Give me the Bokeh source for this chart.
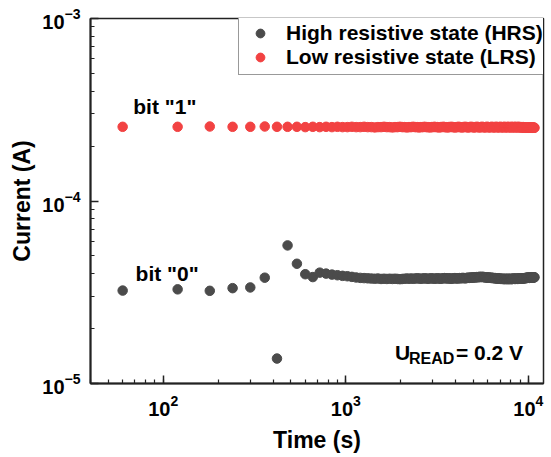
from bokeh.plotting import figure
from bokeh.models import Label
from bokeh.embed import file_html
from bokeh.resources import INLINE

# Measurement times (s), one reading every 60 s for 3 h
time_s = [
    60, 120, 180, 240, 300, 360, 420, 480, 540, 600,
    660, 720, 780, 840, 900, 960, 1020, 1080, 1140, 1200,
    1260, 1320, 1380, 1440, 1500, 1560, 1620, 1680, 1740, 1800,
    1860, 1920, 1980, 2040, 2100, 2160, 2220, 2280, 2340, 2400,
    2460, 2520, 2580, 2640, 2700, 2760, 2820, 2880, 2940, 3000,
    3060, 3120, 3180, 3240, 3300, 3360, 3420, 3480, 3540, 3600,
    3660, 3720, 3780, 3840, 3900, 3960, 4020, 4080, 4140, 4200,
    4260, 4320, 4380, 4440, 4500, 4560, 4620, 4680, 4740, 4800,
    4860, 4920, 4980, 5040, 5100, 5160, 5220, 5280, 5340, 5400,
    5460, 5520, 5580, 5640, 5700, 5760, 5820, 5880, 5940, 6000,
    6060, 6120, 6180, 6240, 6300, 6360, 6420, 6480, 6540, 6600,
    6660, 6720, 6780, 6840, 6900, 6960, 7020, 7080, 7140, 7200,
    7260, 7320, 7380, 7440, 7500, 7560, 7620, 7680, 7740, 7800,
    7860, 7920, 7980, 8040, 8100, 8160, 8220, 8280, 8340, 8400,
    8460, 8520, 8580, 8640, 8700, 8760, 8820, 8880, 8940, 9000,
    9060, 9120, 9180, 9240, 9300, 9360, 9420, 9480, 9540, 9600,
    9660, 9720, 9780, 9840, 9900, 9960, 10020, 10080, 10140, 10200,
    10260, 10320, 10380, 10440, 10500, 10560, 10620, 10680, 10740, 10800,
]

# High resistive state current (units of 1e-5 A)
hrs_e5 = [
    3.23, 3.28, 3.22, 3.33, 3.36, 3.80, 1.37, 5.71, 4.53, 3.97,
    3.83, 4.05, 4.00, 3.95, 3.92, 3.89, 3.87, 3.84, 3.81, 3.79,
    3.78, 3.77, 3.76, 3.75, 3.76, 3.74, 3.75, 3.74, 3.75, 3.74,
    3.75, 3.74, 3.73, 3.74, 3.75, 3.76, 3.75, 3.76, 3.75, 3.76,
    3.77, 3.76, 3.75, 3.76, 3.77, 3.76, 3.75, 3.76, 3.77, 3.76,
    3.75, 3.76, 3.77, 3.76, 3.75, 3.76, 3.77, 3.78, 3.77, 3.76,
    3.77, 3.76, 3.75, 3.76, 3.77, 3.78, 3.77, 3.76, 3.77, 3.78,
    3.77, 3.78, 3.79, 3.78, 3.77, 3.78, 3.79, 3.80, 3.79, 3.80,
    3.81, 3.80, 3.81, 3.82, 3.81, 3.82, 3.83, 3.82, 3.83, 3.84,
    3.83, 3.84, 3.83, 3.84, 3.83, 3.82, 3.81, 3.82, 3.81, 3.80,
    3.81, 3.80, 3.79, 3.80, 3.79, 3.78, 3.79, 3.78, 3.77, 3.78,
    3.77, 3.76, 3.77, 3.76, 3.75, 3.76, 3.75, 3.74, 3.75, 3.74,
    3.75, 3.74, 3.73, 3.74, 3.75, 3.74, 3.73, 3.74, 3.75, 3.74,
    3.73, 3.74, 3.75, 3.74, 3.73, 3.74, 3.75, 3.76, 3.75, 3.74,
    3.75, 3.74, 3.75, 3.76, 3.75, 3.74, 3.75, 3.76, 3.75, 3.76,
    3.77, 3.76, 3.75, 3.76, 3.77, 3.76, 3.77, 3.78, 3.77, 3.78,
    3.79, 3.78, 3.79, 3.80, 3.79, 3.80, 3.81, 3.80, 3.79, 3.80,
    3.81, 3.80, 3.81, 3.82, 3.81, 3.80, 3.81, 3.82, 3.81, 3.82,
]

# Low resistive state current (units of 1e-4 A)
lrs_e4 = [
    2.55, 2.55, 2.56, 2.55, 2.55, 2.56, 2.55, 2.55, 2.55, 2.54,
    2.55, 2.54, 2.55, 2.54, 2.55, 2.54, 2.54, 2.55, 2.54, 2.54,
    2.55, 2.54, 2.54, 2.53, 2.54, 2.54, 2.55, 2.54, 2.54, 2.53,
    2.54, 2.54, 2.55, 2.54, 2.54, 2.53, 2.54, 2.54, 2.55, 2.54,
    2.54, 2.53, 2.54, 2.54, 2.55, 2.54, 2.54, 2.53, 2.54, 2.54,
    2.55, 2.54, 2.54, 2.53, 2.54, 2.54, 2.55, 2.54, 2.54, 2.53,
    2.54, 2.54, 2.55, 2.54, 2.54, 2.53, 2.54, 2.54, 2.55, 2.54,
    2.54, 2.53, 2.54, 2.54, 2.55, 2.54, 2.54, 2.53, 2.54, 2.54,
    2.55, 2.54, 2.54, 2.53, 2.54, 2.54, 2.55, 2.54, 2.54, 2.53,
    2.54, 2.54, 2.55, 2.54, 2.54, 2.53, 2.54, 2.54, 2.55, 2.54,
    2.54, 2.53, 2.54, 2.54, 2.55, 2.54, 2.54, 2.53, 2.54, 2.54,
    2.55, 2.54, 2.54, 2.53, 2.54, 2.54, 2.55, 2.54, 2.54, 2.53,
    2.54, 2.54, 2.55, 2.54, 2.54, 2.53, 2.54, 2.54, 2.55, 2.54,
    2.54, 2.53, 2.54, 2.54, 2.55, 2.54, 2.54, 2.53, 2.54, 2.54,
    2.55, 2.54, 2.54, 2.53, 2.54, 2.54, 2.55, 2.54, 2.54, 2.53,
    2.54, 2.54, 2.53, 2.54, 2.53, 2.53, 2.54, 2.53, 2.53, 2.52,
    2.53, 2.53, 2.52, 2.53, 2.53, 2.52, 2.53, 2.52, 2.53, 2.52,
    2.53, 2.52, 2.52, 2.53, 2.52, 2.52, 2.53, 2.52, 2.52, 2.52,
]

hrs_current = [v * 1e-5 for v in hrs_e5]
lrs_current = [v * 1e-4 for v in lrs_e4]

HRS_LABEL = "High resistive state (HRS)"
LRS_LABEL = "Low resistive state (LRS)"
HRS_COLOR = "#4b4b4b"
LRS_COLOR = "#f24242"
FONT = "Liberation Sans"

p = figure(width=549, height=455, x_axis_type="log", y_axis_type="log",
           x_range=(40, 12100), y_range=(1e-5, 1e-3),
           output_backend="svg", toolbar_location=None,
           min_border_left=90, min_border_right=6,
           min_border_top=18, min_border_bottom=69)

p.grid.visible = False
p.outline_line_color = "#222222"
p.outline_line_width = 1.5
p.outline_line_alpha = 1.0

p.scatter(time_s, hrs_current, size=9.5, color=HRS_COLOR, legend_label=HRS_LABEL)
p.scatter(time_s, lrs_current, size=9.5, color=LRS_COLOR, legend_label=LRS_LABEL)

for ax in (p.xaxis[0], p.yaxis[0]):
    ax.axis_line_width = 2
    ax.axis_line_color = "#222222"
    ax.major_tick_line_width = 1.5
    ax.minor_tick_line_width = 1.2
    ax.major_tick_line_color = "#222222"
    ax.minor_tick_line_color = "#222222"
    ax.major_tick_in = 8
    ax.major_tick_out = 0
    ax.minor_tick_in = 4
    ax.minor_tick_out = 0
    ax.major_label_text_font = FONT
    ax.major_label_text_font_style = "bold"
    ax.major_label_text_font_size = "20px"
    ax.major_label_text_color = "black"
    ax.axis_label_text_font = FONT
    ax.axis_label_text_font_style = "bold"
    ax.axis_label_text_font_size = "23px"
    ax.axis_label_text_color = "black"

p.xaxis.axis_label = "Time (s)"
p.yaxis.axis_label = "Current (A)"
p.xaxis.major_label_standoff = 11
p.yaxis.major_label_standoff = 10
p.xaxis.axis_label_standoff = 8
p.yaxis.axis_label_standoff = 4

leg = p.legend[0]
leg.location = (148, 308)
leg.border_line_color = "#333333"
leg.border_line_width = 1
leg.background_fill_alpha = 1.0
leg.padding = 5
leg.spacing = 0
leg.margin = 0
leg.glyph_width = 32
leg.glyph_height = 22
leg.label_height = 22
leg.label_standoff = 10
leg.label_text_font = FONT
leg.label_text_font_style = "bold"
leg.label_text_font_size = "21px"
leg.label_text_color = "black"

def add_label(x, y, text, size, xo=0, yo=0):
    p.add_layout(Label(x=x, y=y, text=text, x_offset=xo, y_offset=yo,
                       text_font=FONT, text_font_style="bold",
                       text_font_size=size, text_color="black",
                       text_baseline="alphabetic", text_align="left"))

add_label(68.6, 3.28e-4, 'bit "1"', "21px")
add_label(70.6, 4.01e-5, 'bit "0"', "21px")
add_label(1858, 1.47e-5, "U", "21px")
add_label(1858, 1.47e-5, "READ", "16px", xo=14, yo=-6)
add_label(1858, 1.47e-5, "= 0.2 V", "21px", xo=61)

open("out.html", "w").write(file_html(p, INLINE))
